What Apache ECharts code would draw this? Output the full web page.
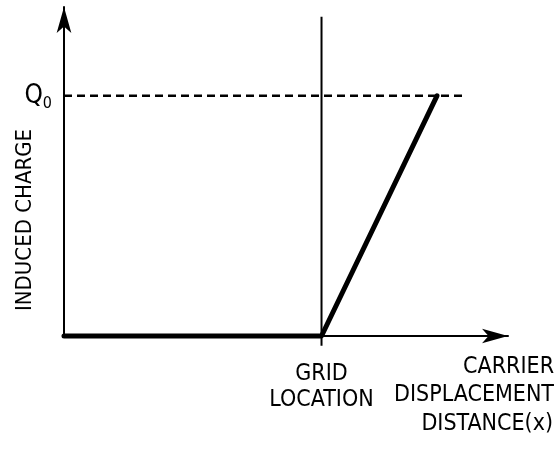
<!DOCTYPE html>
<html>
<head>
<meta charset="utf-8">
<script src="https://cdn.jsdelivr.net/npm/echarts@6/dist/echarts.min.js"></script>
<style>
html,body{margin:0;padding:0;background:#fff;}
#c{width:558px;height:449px;}
</style>
</head>
<body>
<div id="c"></div>
<script>
// ---- data (axis units: x 0..100, y 0..100) ----
const chargeX = [0, 58, 84];          // carrier displacement
const chargeY = [0, 0, 73];           // induced charge
const q0Value = 73;                   // Q0 level
const q0LineX = [0, 90];              // dashed Q0 reference extent
const gridLocationX = 58;             // grid location
const gridLineY = [-3, 97];           // vertical grid-location line extent
const yTickLabels = ['Q0'];
const xTickLabels = ['GRID\nLOCATION'];
const yAxisTitle = 'INDUCED CHARGE';
const xAxisTitle = ['CARRIER', 'DISPLACEMENT', 'DISTANCE(x)'];

const FONT = "'Liberation Sans Narrow', 'DejaVu Sans Condensed', 'Liberation Sans', sans-serif";

const chart = echarts.init(document.getElementById('c'), null, {renderer: 'canvas'});

const chargeData = chargeX.map((x, i) => [x, chargeY[i]]);
const q0Data = q0LineX.map(x => [x, q0Value]);
const gridData = gridLineY.map(y => [gridLocationX, y]);

chart.setOption({
  animation: false,
  backgroundColor: '#fff',
  grid: {left: 64, right: 50, top: 7, bottom: 113, containLabel: false},
  xAxis: {
    type: 'value', min: 0, max: 100,
    splitLine: {show: false},
    axisTick: {show: false},
    axisLine: {show: true, onZero: false, lineStyle: {color: '#000', width: 2},
      symbol: ['none', 'arrow'], symbolSize: [11, 26]},
    axisLabel: {
      show: true,
      customValues: [gridLocationX],
      formatter: () => xTickLabels[0],
      color: '#000', fontFamily: FONT, fontSize: 23, lineHeight: 26,
      margin: 25, align: 'center'
    }
  },
  yAxis: {
    type: 'value', min: 0, max: 100,
    splitLine: {show: false},
    axisTick: {show: false},
    axisLine: {show: true, onZero: false, lineStyle: {color: '#000', width: 2},
      symbol: ['none', 'arrow'], symbolSize: [11, 26]},
    axisLabel: {
      show: true,
      customValues: [q0Value],
      formatter: () => '{q|' + yTickLabels[0].charAt(0) + '}{s|' + yTickLabels[0].slice(1) + '}',
      margin: 12,
      rich: {
        q: {color: '#000', fontFamily: FONT, fontSize: 26, verticalAlign: 'bottom'},
        s: {color: '#000', fontFamily: FONT, fontSize: 16, verticalAlign: 'bottom', padding: [0, 0, -3, 0]}
      }
    }
  },
  graphic: [
    {type: 'text', x: 25, y: 220, rotation: Math.PI / 2,
      style: {text: yAxisTitle, fill: '#000', font: '22px ' + FONT, textAlign: 'center', textVerticalAlign: 'middle'}},
    {type: 'text', x: 554, y: 367,
      style: {text: xAxisTitle[0], fill: '#000', font: '23px ' + FONT, textAlign: 'right', textVerticalAlign: 'middle'}},
    {type: 'text', x: 554, y: 395,
      style: {text: xAxisTitle[1], fill: '#000', font: '23px ' + FONT, textAlign: 'right', textVerticalAlign: 'middle'}},
    {type: 'text', x: 553, y: 424,
      style: {text: xAxisTitle[2], fill: '#000', font: '23px ' + FONT, textAlign: 'right', textVerticalAlign: 'middle'}}
  ],
  series: [
    {type: 'line', data: gridData, symbol: 'none', clip: false, silent: true,
      lineStyle: {color: '#000', width: 2}},
    {type: 'line', data: q0Data, symbol: 'none', clip: false, silent: true,
      lineStyle: {color: '#000', width: 2.5, type: [8, 5]}},
    {type: 'line', data: chargeData, symbol: 'none', clip: false, silent: true,
      lineStyle: {color: '#000', width: 5, cap: 'round', join: 'round'}}
  ]
});
</script>
</body>
</html>
